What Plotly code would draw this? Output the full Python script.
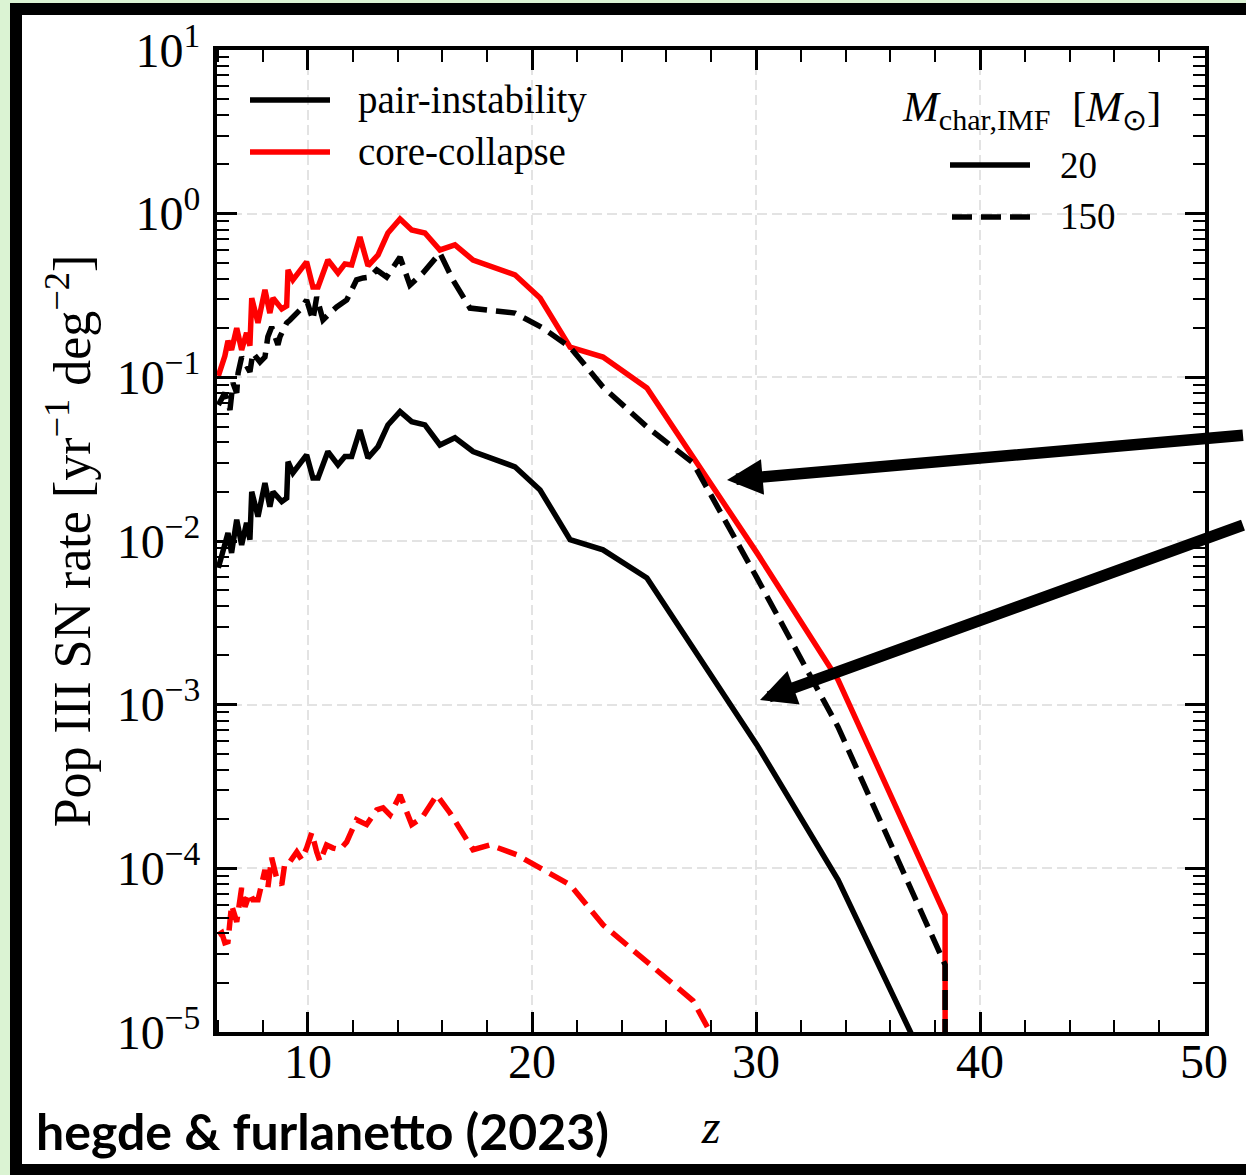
import plotly.graph_objects as go

# ---------------- data ----------------
z_m20 = [6.0, 6.29, 6.43, 6.59, 6.82, 7.04, 7.26, 7.41, 7.49, 7.77,
         8.08, 8.30, 8.44, 8.83, 9.05, 9.11, 9.33, 9.94, 10.22, 10.45,
         10.89, 11.34, 11.65, 11.95, 12.32, 12.68, 13.13, 13.57, 14.11, 14.63,
         15.22, 15.89, 16.56, 17.37, 19.24, 20.36, 21.70, 23.17, 25.13, 27.19,
         30.04, 33.66, 38.44, 38.44]
pisn_m20 = [6.85e-3, 9.24e-3, 1.12e-2, 8.46e-3, 1.35e-2, 9.47e-3, 1.29e-2, 1.02e-2, 2.00e-2, 1.41e-2,
            2.26e-2, 1.62e-2, 2.00e-2, 1.74e-2, 1.83e-2, 3.05e-2, 2.61e-2, 3.36e-2, 2.43e-2, 2.43e-2,
            3.52e-2, 2.92e-2, 3.28e-2, 3.28e-2, 4.77e-2, 3.22e-2, 3.78e-2, 5.12e-2, 6.17e-2, 5.36e-2,
            5.12e-2, 3.86e-2, 4.27e-2, 3.52e-2, 2.84e-2, 2.05e-2, 1.02e-2, 8.83e-3, 5.95e-3, 2.22e-3,
            5.68e-4, 8.51e-5, 3.59e-6, 1e-12]
ccsn_m20 = [0.102, 0.135, 0.167, 0.147, 0.200, 0.147, 0.187, 0.156, 0.305, 0.215,
            0.342, 0.247, 0.305, 0.262, 0.273, 0.453, 0.394, 0.507, 0.357, 0.357,
            0.521, 0.434, 0.493, 0.486, 0.721, 0.480, 0.560, 0.762, 0.929, 0.795,
            0.762, 0.600, 0.644, 0.521, 0.423, 0.305, 0.153, 0.133, 0.0861, 0.0322,
            8.46e-3, 1.42e-3, 5.20e-5, 1e-12]

z_m150_pisn = [6.0, 6.29, 6.52, 6.65, 6.82, 6.88, 7.04, 7.26, 7.41, 7.54,
               7.86, 8.08, 8.21, 8.38, 8.66, 8.75, 9.05, 9.20, 9.64, 9.94,
               10.22, 10.39, 10.67, 10.98, 11.28, 11.73, 12.17, 12.46, 12.77, 13.07,
               13.51, 14.11, 14.55, 15.13, 15.89, 16.47, 17.23, 19.24, 20.49, 21.70,
               23.17, 25.13, 27.19, 30.04, 33.66, 38.44, 38.44]
pisn_m150 = [0.0678, 0.0803, 0.0632, 0.0925, 0.0803, 0.106, 0.133, 0.116, 0.108, 0.141,
             0.124, 0.133, 0.177, 0.203, 0.158, 0.177, 0.215, 0.224, 0.258, 0.297,
             0.224, 0.310, 0.224, 0.247, 0.269, 0.297, 0.394, 0.405, 0.410, 0.453,
             0.410, 0.543, 0.366, 0.434, 0.575, 0.394, 0.265, 0.247, 0.200, 0.153,
             0.0873, 0.0498, 0.0300, 5.95e-3, 7.31e-4, 2.57e-5, 1e-12]

z_m150_ccsn = [6.0, 6.15, 6.29, 6.43, 6.59, 6.82, 7.04, 7.19, 7.41, 7.54,
               7.77, 8.08, 8.21, 8.38, 8.60, 8.83, 8.97, 9.20, 9.50, 9.72,
               9.94, 10.17, 10.39, 10.54, 10.83, 11.12, 11.43, 11.73, 12.17, 12.62,
               13.07, 13.35, 13.66, 14.11, 14.63, 15.08, 15.75, 16.34, 17.37, 18.13,
               19.32, 20.36, 21.70, 23.17, 25.13, 27.19, 30.04, 33.66, 38.44, 38.44]
ccsn_m150 = [3.92e-5, 4.04e-5, 3.51e-5, 3.56e-5, 5.98e-5, 4.71e-5, 7.60e-5, 5.82e-5, 7.08e-5, 6.43e-5,
             6.43e-5, 9.79e-5, 7.60e-5, 1.16e-4, 8.75e-5, 7.93e-5, 1.08e-4, 1.10e-4, 1.26e-4, 1.13e-4,
             1.33e-4, 1.65e-4, 1.26e-4, 1.10e-4, 1.39e-4, 1.33e-4, 1.30e-4, 1.45e-4, 1.98e-4, 1.85e-4,
             2.28e-4, 2.34e-4, 2.12e-4, 2.81e-4, 1.85e-4, 2.03e-4, 2.81e-4, 2.18e-4, 1.30e-4, 1.39e-4,
             1.21e-4, 1.01e-4, 7.93e-5, 4.52e-5, 2.65e-5, 1.55e-5, 2.99e-6, 3.78e-7, 1.33e-8, 1e-12]

y_tickvals = [1e-5, 1e-4, 1e-3, 1e-2, 1e-1, 1e0, 1e1]
y_ticktext = ["10<sup>−5</sup>", "10<sup>−4</sup>", "10<sup>−3</sup>", "10<sup>−2</sup>",
              "10<sup>−1</sup>", "10<sup>0</sup>", "10<sup>1</sup>"]
x_tickvals = [10, 20, 30, 40, 50]

legend_types = ["pair-instability", "core-collapse"]
legend_masses = ["20", "150"]

# ---------------- figure ----------------
W, H = 1246, 1175
L, R, T, B = 217, 41, 50, 143
SERIF = "Liberation Serif"
DASH = "20px,9px"
LW = 5.5

def px(xp):
    return (xp - L) / (W - L - R)

def py(yp):
    return (H - B - yp) / (H - T - B)

fig = go.Figure()
fig.add_trace(go.Scatter(x=z_m20, y=pisn_m20, mode="lines", line=dict(color="black", width=LW),
                         name="PISN, 20", showlegend=False))
fig.add_trace(go.Scatter(x=z_m20, y=ccsn_m20, mode="lines", line=dict(color="#ff0000", width=LW),
                         name="CCSN, 20", showlegend=False))
fig.add_trace(go.Scatter(x=z_m150_pisn, y=pisn_m150, mode="lines",
                         line=dict(color="black", width=LW, dash=DASH),
                         name="PISN, 150", showlegend=False))
fig.add_trace(go.Scatter(x=z_m150_ccsn, y=ccsn_m150, mode="lines",
                         line=dict(color="#ff0000", width=LW, dash=DASH),
                         name="CCSN, 150", showlegend=False))

shapes = []
# outer frame
shapes.append(dict(type="rect", xref="paper", yref="paper", layer="below",
                   x0=px(16), x1=px(1262), y0=py(1170), y1=py(9),
                   fillcolor="white", line=dict(color="black", width=12)))
# legend 1 samples
shapes.append(dict(type="line", xref="paper", yref="paper", x0=px(250), x1=px(330),
                   y0=py(100), y1=py(100), line=dict(color="black", width=LW)))
shapes.append(dict(type="line", xref="paper", yref="paper", x0=px(250), x1=px(330),
                   y0=py(152), y1=py(152), line=dict(color="#ff0000", width=LW)))
# legend 2 samples
shapes.append(dict(type="line", xref="paper", yref="paper", x0=px(950), x1=px(1030),
                   y0=py(165), y1=py(165), line=dict(color="black", width=LW)))
shapes.append(dict(type="line", xref="paper", yref="paper", x0=px(952), x1=px(1030),
                   y0=py(217), y1=py(217), line=dict(color="black", width=LW, dash=DASH)))

ann = []
ann.append(dict(text=legend_types[0], xref="paper", yref="paper", x=px(356), y=py(100),
                xanchor="left", yanchor="middle", showarrow=False,
                font=dict(family=SERIF, size=39, color="black")))
ann.append(dict(text=legend_types[1], xref="paper", yref="paper", x=px(356), y=py(152),
                xanchor="left", yanchor="middle", showarrow=False,
                font=dict(family=SERIF, size=39, color="black")))
ann.append(dict(text="<i>M</i><sub>char,IMF</sub>&nbsp;&nbsp;[<i>M</i><sub>⊙</sub>]", xref="paper", yref="paper",
                x=px(1031), y=py(110), xanchor="center", yanchor="middle", showarrow=False,
                font=dict(family=SERIF, size=43, color="black")))
ann.append(dict(text=legend_masses[0], xref="paper", yref="paper", x=px(1058), y=py(165),
                xanchor="left", yanchor="middle", showarrow=False,
                font=dict(family=SERIF, size=37, color="black")))
ann.append(dict(text=legend_masses[1], xref="paper", yref="paper", x=px(1058), y=py(217),
                xanchor="left", yanchor="middle", showarrow=False,
                font=dict(family=SERIF, size=37, color="black")))
# credit
ann.append(dict(text="<b>hegde &amp; furlanetto (2023)</b>", xref="paper", yref="paper",
                x=px(34), y=py(1131), xanchor="left", yanchor="middle", showarrow=False,
                font=dict(family="Lato", size=50, color="black")))
# arrows
ann.append(dict(text=" ", xref="paper", yref="paper", x=px(727), y=py(480),
                ax=580, ay=-45, showarrow=True, arrowhead=2, arrowsize=0.62,
                arrowwidth=11.5, arrowcolor="black", standoff=0))
ann.append(dict(text=" ", xref="paper", yref="paper", x=px(760), y=py(700),
                ax=545, ay=-176, showarrow=True, arrowhead=2, arrowsize=0.62,
                arrowwidth=11.5, arrowcolor="black", standoff=0))

axis_common = dict(showline=True, linecolor="black", linewidth=4, mirror="ticks",
                   ticks="inside", tickcolor="black", tickwidth=3, ticklen=20,
                   showgrid=True, gridcolor="#e3e3e3", gridwidth=2, griddash="10px,5px",
                   zeroline=False,
                   tickfont=dict(family=SERIF, size=48, color="black"))

fig.update_layout(
    width=W, height=H,
    margin=dict(l=L, r=R, t=T, b=B, pad=0),
    paper_bgcolor="#dbf3d3", plot_bgcolor="white",
    shapes=shapes, annotations=ann, showlegend=False,
    xaxis=dict(range=[5.94, 50.04], tickmode="array", tickvals=x_tickvals,
               ticklabelstandoff=-16,
               minor=dict(dtick=2, tick0=0, ticks="inside", ticklen=12, tickwidth=2,
                          tickcolor="black", showgrid=False),
               title=dict(text="<i>z</i>", font=dict(family=SERIF, size=48, color="black"),
                          standoff=24),
               **axis_common),
    yaxis=dict(type="log", range=[-5, 1], tickmode="array", tickvals=y_tickvals,
               ticktext=y_ticktext, ticklabelstandoff=3,
               minor=dict(dtick="D1", ticks="inside", ticklen=12, tickwidth=2,
                          tickcolor="black", showgrid=False),
               title=dict(text="Pop III SN rate [yr<sup>−1</sup> deg<sup>−2</sup>]",
                          font=dict(family=SERIF, size=52, color="black"), standoff=10),
               **axis_common),
)

fig.write_html("out.html")
